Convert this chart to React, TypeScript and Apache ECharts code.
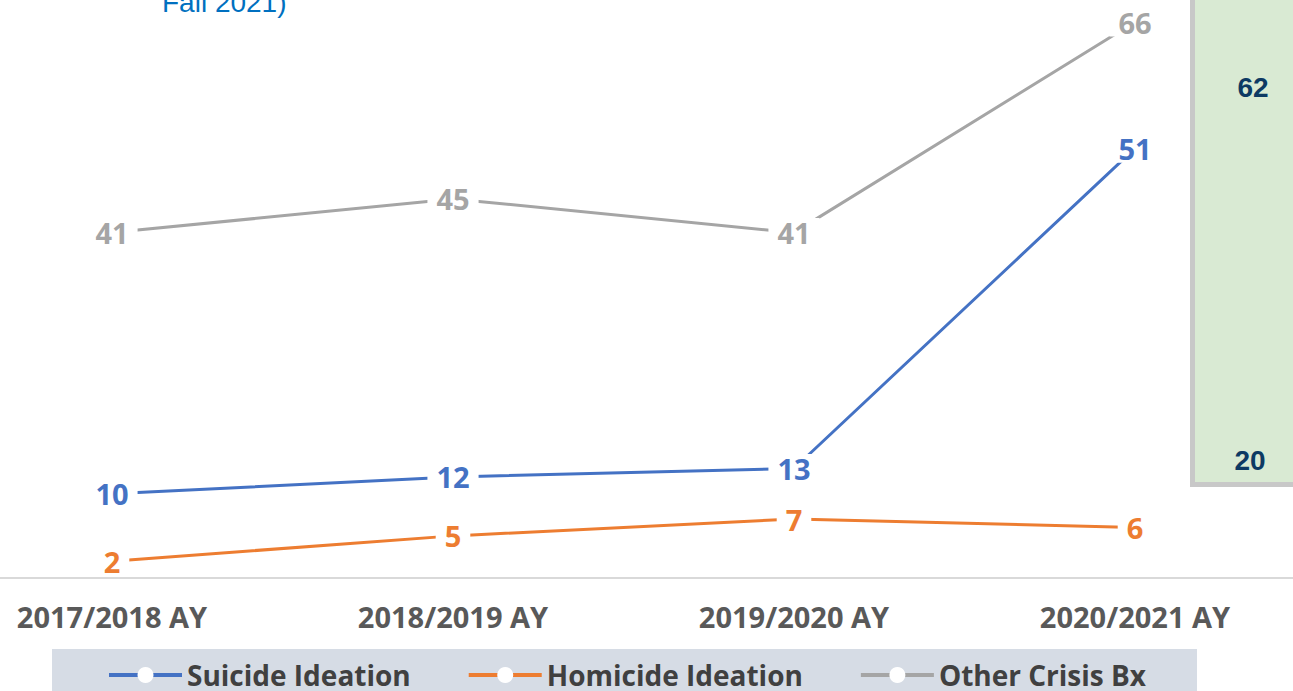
import React, { useEffect, useRef } from "react";
import * as echarts from "echarts";

const categories = ["2017/2018 AY", "2018/2019 AY", "2019/2020 AY", "2020/2021 AY"];
const suicide = [10, 12, 13, 51];
const homicide = [2, 5, 7, 6];
const otherCrisis = [41, 45, 41, 66];
const seriesNames = ["Suicide Ideation", "Homicide Ideation", "Other Crisis Bx"];
const sideValues = ["62", "20"];
const titleFragment = "Fall 2021)";

const BLUE = "#4472C4";
const ORANGE = "#ED7D31";
const GRAY = "#A5A5A5";
const FONT = "'Open Sans', Lato, sans-serif";

export default function App() {
  const ref = useRef<HTMLDivElement>(null);
  useEffect(() => {
    if (!ref.current) return;
    const chart = echarts.init(ref.current, undefined, { renderer: "svg" });
    const mk = (name: string, data: number[], color: string) => ({
      name,
      type: "line",
      data,
      z: 3,
      symbol: "circle",
      symbolSize: 0,
      showSymbol: true,
      lineStyle: { color, width: 3 },
      itemStyle: { color: "#fff" },
      label: {
        show: true,
        position: "inside",
        color,
        fontFamily: FONT,
        fontWeight: "bold",
        fontSize: 29,
        backgroundColor: "#fff",
        padding: [0, 9],
      },
      emphasis: { disabled: true },
    });
    chart.setOption({
      animation: false,
      grid: { left: 112, right: 158, top: 22, bottom: 113 },
      xAxis: {
        type: "category",
        data: categories,
        boundaryGap: false,
        axisLine: { show: false },
        axisTick: { show: false },
        axisLabel: {
          color: "#595959",
          fontFamily: FONT,
          fontWeight: "bold",
          fontSize: 29,
          margin: 24,
        },
      },
      yAxis: { type: "value", min: 0, max: 66, show: false, splitLine: { show: false } },
      legend: {
        data: seriesNames,
        left: 107,
        top: 661,
        itemWidth: 73,
        itemHeight: 20,
        itemGap: 56,
        padding: 0,
        itemStyle: { color: "#fff", borderWidth: 0 },
        lineStyle: { width: 4 },
        textStyle: {
          color: "#404040",
          fontFamily: FONT,
          fontWeight: "bold",
          fontSize: 28,
          lineHeight: 28,
        },
      },
      graphic: [
        {
          type: "line",
          z: 0,
          shape: { x1: 0, y1: 578, x2: 1293, y2: 578 },
          style: { stroke: "#d9d9d9", lineWidth: 2 },
        },
        {
          type: "rect",
          z: -10,
          shape: { x: 52, y: 649, width: 1145, height: 60 },
          style: { fill: "#d6dce5" },
        },
        {
          type: "rect",
          z: 10,
          shape: { x: 1192.5, y: -10, width: 120, height: 494.5 },
          style: { fill: "#d9ead3", stroke: "#c8c8c8", lineWidth: 5 },
        },
        {
          type: "text",
          z: 11,
          x: 1253,
          y: 87,
          style: {
            text: sideValues[0],
            fill: "#0d3a63",
            font: "bold 28px 'Liberation Sans', Arial, sans-serif",
            align: "center",
            verticalAlign: "middle",
          },
        },
        {
          type: "text",
          z: 11,
          x: 1250,
          y: 460,
          style: {
            text: sideValues[1],
            fill: "#0d3a63",
            font: "bold 28px 'Liberation Sans', Arial, sans-serif",
            align: "center",
            verticalAlign: "middle",
          },
        },
        {
          type: "text",
          z: 11,
          x: 162,
          y: 2,
          style: {
            text: titleFragment,
            fill: "#0070C0",
            font: "28px 'Liberation Sans', Arial, sans-serif",
            align: "left",
            verticalAlign: "middle",
          },
        },
      ],
      series: [
        mk(seriesNames[0], suicide, BLUE),
        mk(seriesNames[1], homicide, ORANGE),
        mk(seriesNames[2], otherCrisis, GRAY),
      ],
    });
    return () => chart.dispose();
  }, []);
  return (
    <div
      ref={ref}
      style={{ position: "absolute", left: 0, top: 0, width: 1293, height: 691, background: "#fff" }}
    />
  );
}
